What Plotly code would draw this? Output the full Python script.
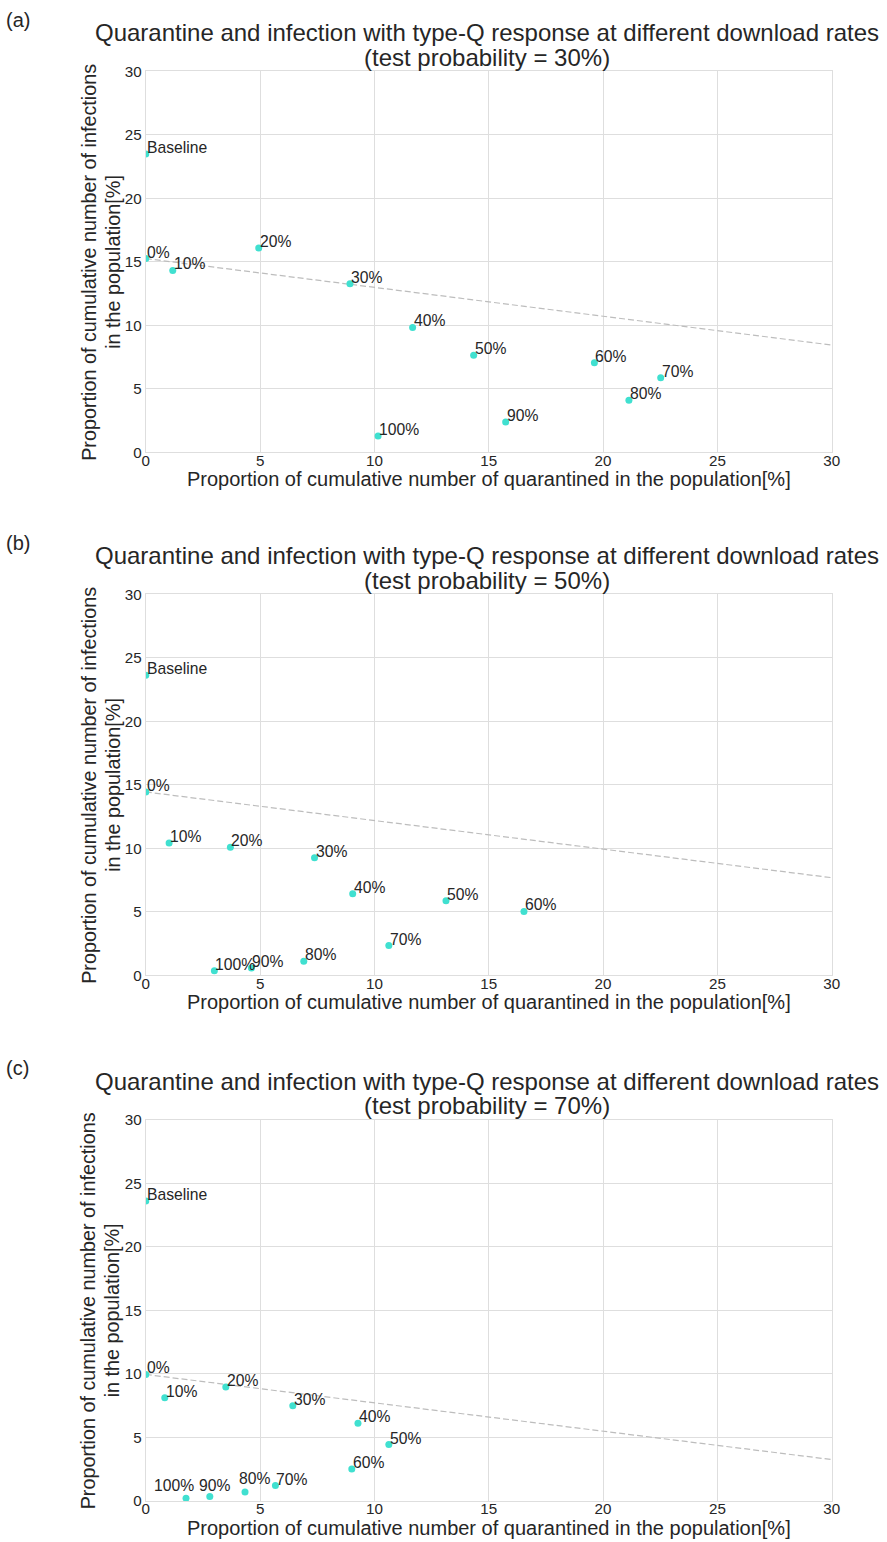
import plotly.graph_objects as go

W, H = 887, 1542

# ---------------- data ----------------
point_labels = ["Baseline", "0%", "10%", "20%", "30%", "40%", "50%",
                "60%", "70%", "80%", "90%", "100%"]
panel_tags = ["(a)", "(b)", "(c)"]
test_probs = ["30%", "50%", "70%"]
ticks = [0, 5, 10, 15, 20, 25, 30]

# panel (a): test probability = 30%
quar_a = [0, 0, 1.18, 4.94, 8.93, 11.67, 14.34, 19.62, 22.52, 21.13, 15.74, 10.16]
inf_a = [23.5, 15.27, 14.33, 16.10, 13.28, 9.85, 7.65, 7.07, 5.89, 4.12, 2.41, 1.29]
# panel (b): test probability = 50%
quar_b = [0, 0, 1.02, 3.70, 7.38, 9.05, 13.13, 16.54, 10.63, 6.91, 4.62, 3.00]
inf_b = [23.64, 14.45, 10.43, 10.09, 9.27, 6.44, 5.89, 5.04, 2.36, 1.13, 0.58, 0.37]
# panel (c): test probability = 70%
quar_c = [0, 0, 0.83, 3.50, 6.43, 9.28, 10.63, 9.01, 5.67, 4.34, 2.80, 1.76]
inf_c = [23.62, 9.96, 8.12, 8.98, 7.49, 6.12, 4.44, 2.52, 1.21, 0.71, 0.35, 0.21]

# dashed reference lines
line_x = [0, 30]
line_a = [15.27, 8.46]
line_b = [14.45, 7.70]
line_c = [9.96, 3.26]

panels = [(quar_a, inf_a, line_a), (quar_b, inf_b, line_b), (quar_c, inf_c, line_c)]

# label offsets (px) for labels moved away from their point (panel c)
label_shift = [
    {},
    {},
    {"100%": (-33, 6), "90%": (-12, 5), "80%": (-7, 7)},
]

# ---------------- layout helpers (target pixel coordinates) ----------------
L, R = 145, 832
tops = [71.5, 594.5, 1120.0]
PH = 381.0
TEXT = "#262626"
GRID = "#dedede"
FONT = "Liberation Sans, Arial, sans-serif"

# compensation for the capture's slight rescale
SX, OX = 0.988, 3.0
SY, OY = 0.989, 9.0


def px(x):
    return ((x - OX) / SX) / W


def py(y):
    return 1 - ((y - OY) / SY) / H


fig = go.Figure()
annotations = []

for i, (qx, iy, ly) in enumerate(panels):
    sfx = "" if i == 0 else str(i + 1)
    xa, ya = "x" + sfx, "y" + sfx
    T = tops[i]
    B = T + PH

    fig.add_trace(go.Scatter(
        x=line_x, y=ly, mode="lines", xaxis=xa, yaxis=ya,
        line=dict(color="#bdbdbd", width=1.2, dash="6px,3px"),
        hoverinfo="skip", showlegend=False))
    fig.add_trace(go.Scatter(
        x=qx, y=iy, mode="markers", xaxis=xa, yaxis=ya,
        marker=dict(color="#40E0D0", size=7, line=dict(width=0)),
        showlegend=False, cliponaxis=True))

    for lab, xv, yv in zip(point_labels, qx, iy):
        dx, dy = label_shift[i].get(lab, (0, 0))
        annotations.append(dict(
            x=xv, y=yv, xref=xa, yref=ya, text=lab, showarrow=False,
            xanchor="left", yanchor="bottom", xshift=-1 + dx, yshift=-4 + dy,
            font=dict(size=15.7, color=TEXT, family=FONT)))

    fig.layout["xaxis" + sfx] = dict(
        domain=[px(L), px(R)], anchor=ya, range=[0, 30], tickvals=ticks,
        showgrid=True, gridcolor=GRID, gridwidth=1, zeroline=False,
        showline=True, linecolor=GRID, mirror=True, ticks="",
        ticklabelstandoff=-6,
        tickfont=dict(size=15.2, color=TEXT, family=FONT))
    fig.layout["yaxis" + sfx] = dict(
        domain=[py(B), py(T)], anchor=xa, range=[0, 30], tickvals=ticks,
        showgrid=True, gridcolor=GRID, gridwidth=1, zeroline=False,
        showline=True, linecolor=GRID, mirror=True, ticks="",
        tickfont=dict(size=15.2, color=TEXT, family=FONT))

    cx = (L + R) / 2
    # panel tag
    annotations.append(dict(x=px(3), y=py(T - 51.5), xref="paper", yref="paper",
                            text=panel_tags[i], showarrow=False, xanchor="left",
                            yanchor="middle", font=dict(size=20, color=TEXT, family=FONT)))
    # title (two lines)
    annotations.append(dict(x=px(cx - 2), y=py(T - 38.5), xref="paper", yref="paper",
                            text="Quarantine and infection with type-Q response at different download rates",
                            showarrow=False, xanchor="center", yanchor="middle",
                            font=dict(size=24, color=TEXT, family=FONT)))
    annotations.append(dict(x=px(cx - 2), y=py(T - 14), xref="paper", yref="paper",
                            text="(test probability = %s)" % test_probs[i],
                            showarrow=False, xanchor="center", yanchor="middle",
                            font=dict(size=24, color=TEXT, family=FONT)))
    # y title (two lines)
    annotations.append(dict(x=px(88), y=py(T + PH / 2), xref="paper", yref="paper",
                            text="Proportion of cumulative number of infections",
                            showarrow=False, textangle=-90, xanchor="center", yanchor="middle",
                            font=dict(size=19.8, color=TEXT, family=FONT)))
    annotations.append(dict(x=px(112), y=py(T + PH / 2), xref="paper", yref="paper",
                            text="in the population[%]",
                            showarrow=False, textangle=-90, xanchor="center", yanchor="middle",
                            font=dict(size=19.8, color=TEXT, family=FONT)))
    # x title
    annotations.append(dict(x=px(cx), y=py(B + 27), xref="paper", yref="paper",
                            text="Proportion of cumulative number of quarantined in the population[%]",
                            showarrow=False, xanchor="center", yanchor="middle",
                            font=dict(size=20, color=TEXT, family=FONT)))

fig.update_layout(
    width=W, height=H, margin=dict(l=0, r=0, t=0, b=0),
    paper_bgcolor="white", plot_bgcolor="white",
    annotations=annotations, showlegend=False,
    font=dict(family=FONT, color=TEXT))

fig.write_html("out.html", config={"displayModeBar": False},
               post_script="document.body.style.margin='0px';")
